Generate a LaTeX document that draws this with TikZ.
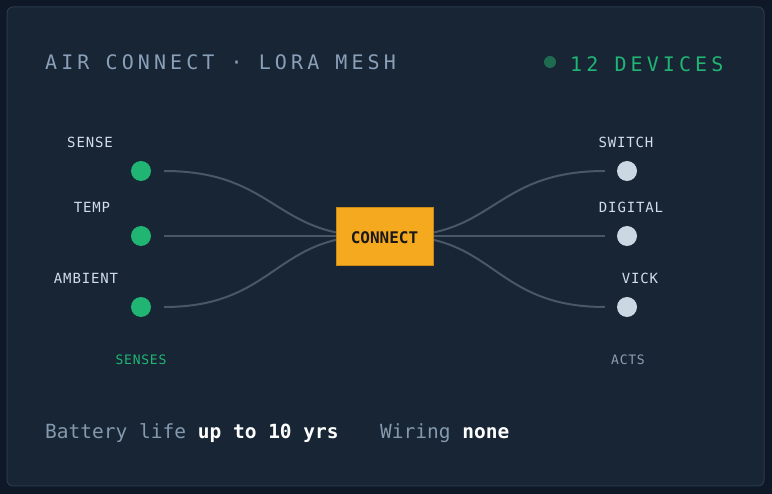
\documentclass[tikz,border=0pt]{standalone}
\usepackage{fontspec}
\usepackage{xcolor}
\usepackage{tikz}
\usetikzlibrary{positioning, backgrounds}
\setmonofont{DejaVu Sans Mono}
\newfontfamily\titlefont[LetterSpace=20.5]{DejaVu Sans Mono}
\newfontfamily\tagfont[LetterSpace=6]{DejaVu Sans Mono}
\definecolor{outercolor}{HTML}{0E1826}
\definecolor{panelcolor}{HTML}{172535}
\definecolor{panelline}{HTML}{2A3A4C}
\definecolor{titlecolor}{HTML}{8AA0B8}
\definecolor{sensecolor}{HTML}{21B573}
\definecolor{dotcolor}{HTML}{1E6B50}
\definecolor{tagcolor}{HTML}{D2DDEA}
\definecolor{actcolor}{HTML}{CBD7E2}
\definecolor{actstext}{HTML}{8E9DB0}
\definecolor{wirecolor}{HTML}{4A5766}
\definecolor{hubcolor}{HTML}{F5A91F}
\definecolor{hubline}{HTML}{C98A16}
\definecolor{footgray}{HTML}{8499AE}

\begin{document}
\begin{tikzpicture}[
    x=1pt, y=-1pt,
    panel/.style={draw=panelline, fill=panelcolor, line width=1pt, rounded corners=6pt},
    heading/.style={anchor=base west, inner sep=0pt, font=\titlefont\fontsize{20}{24}\selectfont},
    sensor/.style={circle, fill=sensecolor, minimum size=20pt, inner sep=0pt},
    actor/.style={circle, fill=actcolor, minimum size=20pt, inner sep=0pt},
    tag/.style={anchor=base, inner sep=0pt, text=tagcolor, font=\tagfont\fontsize{14}{16}\selectfont},
    group/.style={anchor=base, inner sep=0pt, font=\tagfont\fontsize{13}{16}\selectfont},
    hub/.style={draw=hubline, fill=hubcolor, minimum width=97pt, minimum height=58pt, inner sep=0pt, text height=15.7pt, text depth=0pt, font=\ttfamily\bfseries\fontsize{16}{18}\selectfont, text=black!90},
    wire/.style={draw=wirecolor, line width=2pt, shorten <=13pt, shorten >=12pt},
    footer/.style={anchor=base west, inner sep=0pt, font=\ttfamily\fontsize{19.5}{22}\selectfont}
]
    % Header
    \node[heading, text=titlecolor] (title) at (45,70) {AIR CONNECT · LORA MESH};
    \node[circle, fill=dotcolor, minimum size=12pt, inner sep=0pt] (live) at (550,62) {};
    \node[heading, text=sensecolor] (count) at (570,72) {12 DEVICES};

    % Senses
    \node[sensor] (sense) at (141,171) {};
    \node[sensor] (temp) at (141,236) {};
    \node[sensor] (ambient) at (141,307) {};
    \node[tag] (sense-tag) at (90,148) {SENSE};
    \node[tag] (temp-tag) at (92,213) {TEMP};
    \node[tag] (ambient-tag) at (86,284) {AMBIENT};
    \node[group, text=sensecolor] (senses) at (141,365) {SENSES};

    % Acts
    \node[actor] (switch) at (627,171) {};
    \node[actor] (digital) at (627,236) {};
    \node[actor] (vick) at (627,307) {};
    \node[tag] (switch-tag) at (626,148) {SWITCH};
    \node[tag] (digital-tag) at (631,213) {DIGITAL};
    \node[tag] (vick-tag) at (640,284) {VICK};
    \node[group, text=actstext] (acts) at (628,365) {ACTS};

    % Hub
    \node[hub] (hub) at (384.5,236) {CONNECT};

    % Footer
    \node[footer] (battery) at (45,439) {\textcolor{footgray}{Battery life} \textcolor{white}{\bfseries up to 10 yrs}};
    \node[footer] (wiring) at (380,439) {\textcolor{footgray}{Wiring} \textcolor{white}{\bfseries none}};

    % Page, panel and wires behind the nodes
    \begin{pgfonlayer}{background}
    \fill[outercolor] (0,0) rectangle (772,494);
    \draw[panel] (7,7) rectangle (764,486);
    \draw[wire] (sense) .. controls +(133,0) and +(-110,0) .. (hub.center);
    \draw[wire] (temp) -- (hub.center);
    \draw[wire] (ambient) .. controls +(133,0) and +(-110,0) .. (hub.center);
    \draw[wire] (hub.center) .. controls +(110.5,0) and +(-132.5,0) .. (switch);
    \draw[wire] (hub.center) -- (digital);
    \draw[wire] (hub.center) .. controls +(110.5,0) and +(-132.5,0) .. (vick);
    \end{pgfonlayer}
    \useasboundingbox (0,0) rectangle (772,494);
\end{tikzpicture}
\end{document}
